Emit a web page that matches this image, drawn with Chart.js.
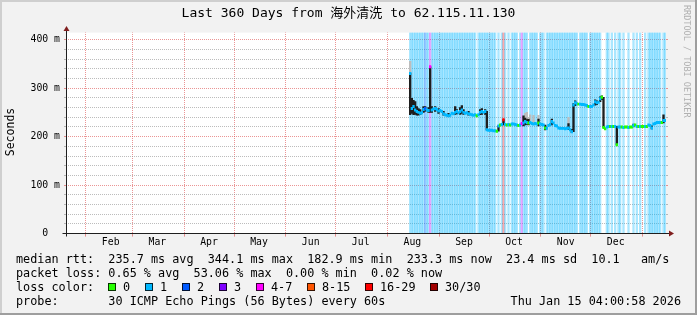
<!DOCTYPE html>
<html><head><meta charset="utf-8">
<script src="https://cdn.jsdelivr.net/npm/chart.js@4.4.1/dist/chart.umd.min.js"></script>
<style>html,body{margin:0;padding:0;background:#f2f2f2;overflow:hidden}canvas{display:block}</style>
</head><body>
<canvas id="c" width="697" height="315"></canvas>
<script>
// ---------- text ----------
const titleText = 'Last 360 Days from 海外清洗 to 62.115.11.130';
const yAxisTitle = 'Seconds';
const watermark = 'RRDTOOL / TOBI OETIKER';
const rttStats = ['235.7 ms avg', '344.1 ms max', '182.9 ms min', '233.3 ms now', '23.4 ms sd', '10.1   am/s'];
const lossStats = ['0.65 % avg', '53.06 % max', '0.00 % min', '0.02 % now'];
const probeText = '30 ICMP Echo Pings (56 Bytes) every 60s';
const stampText = 'Thu Jan 15 04:00:58 2026';

// ---------- axes ----------
const rangeStart = '2025-01-20T04:00:58Z';
const rangeDays = 360;
const monthNames = ['Feb','Mar','Apr','May','Jun','Jul','Aug','Sep','Oct','Nov','Dec','Jan'];
const monthStarts = ['2025-02-01','2025-03-01','2025-04-01','2025-05-01','2025-06-01','2025-07-01',
                     '2025-08-01','2025-09-01','2025-10-01','2025-11-01','2025-12-01','2026-01-01'];
const yMax = 414.5;
const yStep = 20;
const yMajorValues = [0, 100, 200, 300, 400];
const yTickLabels = ['0  ', '100 m', '200 m', '300 m', '400 m'];

// ---------- loss classes ----------
const lossLabels = ['0','1','2','3','4-7','8-15','16-29','30/30'];
const lossColors = ['#26ff00','#00b8ff','#0059ff','#7e00ff','#ff00ff','#ff5500','#ff0000','#a10000'];

// ---------- data (one value per day, day index counted from rangeStart) ----------
const firstDay = 206;
const median = [
  330,258,262,255,252,250,248,249,256,258,
  255,254,344,255,257,258,256,253,254,252,
  247,245,244,243,244,248,247,250,252,249,
  252,255,250,248,249,247,246,245,244,245,
  243,245,250,252,250,252,214,213,213,213,
  212,212,211,222,224,225,235,225,224,225,
  224,226,226,225,224,223,224,227,228,231,
  229,228,229,227,226,227,226,228,226,225,
  224,218,217,223,225,231,228,223,222,218,
  217,217,217,216,217,218,214,210,265,270,
  268,267,267,266,266,265,264,262,262,262,
  265,272,270,271,278,281,219,216,220,221,
  221,221,221,221,183,220,220,220,219,220,
  220,219,220,220,223,224,221,221,221,221,
  221,221,221,224,223,218,226,227,229,229,
  229,229,233,233
];
const loss = [
  1,1,1,1,1,1,1,1,1,2,
  1,1,4,1,1,1,1,1,1,1,
  1,1,1,1,1,1,1,1,1,1,
  1,1,1,1,1,1,1,1,1,1,
  0,1,1,1,1,1,1,1,1,1,
  1,1,0,1,0,1,6,1,0,1,
  0,1,1,1,1,0,1,4,1,1,
  1,0,1,1,1,1,1,0,1,1,
  1,0,1,1,1,1,1,1,1,1,
  1,1,1,1,1,1,1,1,1,1,
  1,0,1,1,1,1,1,0,1,1,
  1,1,1,1,1,0,0,0,1,1,
  0,1,0,1,0,1,1,0,1,0,
  0,1,0,0,1,0,1,0,1,0,
  0,1,0,1,1,1,1,1,1,1,
  1,0,1,1
];
// dark smoke (dense ping spread)
const smokeDays = [206,207,208,209,210,211,212,214,215,217,218,219,221,223,226,229,233,234,236,237,238,241,248,249,251,252,259,262,274,275,276,277,283,287,291,301,303,304,305,317,318,320,321,322,330,340,351,358];
const smokeLow  = [245,248,245,246,244,244,245,250,252,250,250,250,252,248,244,241,246,247,246,248,246,244,245,246,246,214,211,224,222,224,225,224,222,214,224,215,208,210,264,265,266,272,276,219,183,220,216,228];
const smokeHigh = [331,279,275,272,262,258,256,262,262,260,344,262,262,258,252,248,262,256,260,264,256,252,256,258,256,252,222,235,243,238,235,236,236,224,236,227,215,268,274,276,274,282,284,281,221,226,222,245];
// light smoke (sparse outliers)
const lightDays = [206,275,276,278,280,283,301];
const lightLow  = [331,238,235,232,229,236,227];
const lightHigh = [355,248,250,245,244,244,240];

// ---------- build datasets ----------
const DAY = 86400000;
const t0 = Date.parse(rangeStart);
const dayOffset = s => (Date.parse(s + 'T00:00:00Z') - t0) / DAY;
const markerHalf = 2.4;

const medData = [], medColors = [], bgData = [], bgColors = [];
median.forEach((m, k) => {
  const d = firstDay + k, c = loss[k];
  medData.push({x: d + 0.5, y: [m - markerHalf, m + markerHalf]});
  medColors.push(lossColors[c]);
  if (c > 0) { bgData.push({x: d + 0.5, y: [0, yMax]}); bgColors.push(lossColors[c] + '55'); }
});
const smokeData = smokeDays.map((d, k) => ({x: d + 0.5, y: [smokeLow[k], smokeHigh[k]]}));
const lightData = lightDays.map((d, k) => ({x: d + 0.5, y: [lightLow[k], lightHigh[k]]}));

const xTicks = [];
monthStarts.forEach((s, k) => {
  const o = dayOffset(s);
  if (o >= 0 && o <= rangeDays) xTicks.push({value: o, kind: 'grid', name: ''});
  const lo = o + 15;
  if (lo >= 0 && lo <= rangeDays) xTicks.push({value: lo, kind: 'label', name: monthNames[k]});
});
xTicks.sort((a, b) => a.value - b.value);

const GRID = 'rgba(143,143,143,0.6)';
const MGRID = 'rgba(222,79,79,0.6)';
const NONE = 'rgba(0,0,0,0)';
const MONO = '"DejaVu Sans Mono", "Noto Sans CJK SC", monospace';
const PLOT_TOP = 32.6;

const framePlugin = {
  id: 'frame',
  beforeDraw(chart) {
    const {ctx, width, height, chartArea: a} = chart;
    ctx.save();
    ctx.fillStyle = '#f2f2f2'; ctx.fillRect(0, 0, width, height);
    ctx.fillStyle = '#cfcfcf'; ctx.fillRect(0, 0, width, 2); ctx.fillRect(0, 0, 2, height);
    ctx.fillStyle = '#9e9e9e'; ctx.fillRect(0, height - 2, width, 2); ctx.fillRect(width - 2, 0, 2, height);
    ctx.fillStyle = '#ffffff'; ctx.fillRect(a.left, a.top, a.right - a.left, a.bottom - a.top);
    ctx.restore();
  },
  afterDraw(chart) {
    const {ctx, width, chartArea: a} = chart;
    ctx.save();
    const yb = Math.round(a.bottom - 0.5) + 0.5;
    const xl = Math.round(a.left - 0.5) + 0.5;
    ctx.strokeStyle = '#1f1f1f'; ctx.lineWidth = 1;
    ctx.beginPath(); ctx.moveTo(xl - 4, yb); ctx.lineTo(a.right + 4, yb); ctx.stroke();
    ctx.beginPath(); ctx.moveTo(xl, yb + 3); ctx.lineTo(xl, a.top - 2); ctx.stroke();
    ctx.fillStyle = '#801f1f';
    ctx.beginPath(); ctx.moveTo(a.right + 3, yb - 3); ctx.lineTo(a.right + 8, yb); ctx.lineTo(a.right + 3, yb + 3); ctx.closePath(); ctx.fill();
    ctx.beginPath(); ctx.moveTo(xl - 3, a.top - 1.5); ctx.lineTo(xl, a.top - 6.5); ctx.lineTo(xl + 3, a.top - 1.5); ctx.closePath(); ctx.fill();

    ctx.fillStyle = '#000';
    // title
    ctx.font = '13px ' + MONO; ctx.textAlign = 'center'; ctx.textBaseline = 'middle';
    ctx.fillText(titleText, width / 2, 14);
    // y axis title
    ctx.save(); ctx.translate(11, 132); ctx.rotate(-Math.PI / 2);
    ctx.font = '11.5px ' + MONO; ctx.fillText(yAxisTitle, 0, 0); ctx.restore();
    // watermark
    ctx.save(); ctx.translate(686, 5); ctx.rotate(Math.PI / 2);
    ctx.font = '8.5px ' + MONO; ctx.fillStyle = '#b0b0b0'; ctx.textAlign = 'left';
    ctx.fillText(watermark, 0, 0); ctx.restore();
    // legend
    ctx.font = '11.8px ' + MONO; ctx.textAlign = 'left'; ctx.textBaseline = 'middle';
    const L = 16, rows = [259.5, 273.5, 287.5, 301.5];
    ctx.fillText('median rtt:  ' + rttStats.join('  '), L, rows[0]);
    ctx.fillText('packet loss: ' + lossStats.join('  '), L, rows[1]);
    ctx.fillText('loss color:', L, rows[2]);
    let bx = L + ctx.measureText('loss color:  ').width;
    lossLabels.forEach((lab, k) => {
      const x0 = Math.round(bx);
      ctx.fillStyle = lossColors[k]; ctx.fillRect(x0, 283, 8, 8);
      ctx.strokeStyle = 'rgba(0,0,0,0.8)'; ctx.strokeRect(x0 + 0.5, 283.5, 7, 7);
      ctx.fillStyle = '#000';
      const lx = x0 + 15;
      ctx.fillText(lab, lx, rows[2]);
      bx = lx + ctx.measureText(lab).width + 14.6;
    });
    ctx.fillText('probe:       ' + probeText, L, rows[3]);
    ctx.textAlign = 'right';
    ctx.fillText(stampText, 681, rows[3]);
    ctx.restore();
  }
};

new Chart(document.getElementById('c'), {
  type: 'bar',
  data: { datasets: [
    {label: 'median rtt', data: medData, backgroundColor: medColors, order: 1},
    {label: 'smoke', data: smokeData, backgroundColor: '#1e1e1e', order: 2},
    {label: 'smoke light', data: lightData, backgroundColor: '#bdbdbd', order: 3},
    {label: 'loss background', data: bgData, backgroundColor: bgColors, order: 4}
  ]},
  options: {
    responsive: false, animation: false, devicePixelRatio: 1,
    layout: {padding: {left: 0, right: 0, top: PLOT_TOP, bottom: 0}},
    datasets: {bar: {grouped: false, barPercentage: 1, categoryPercentage: 1, borderWidth: 0, borderSkipped: false}},
    plugins: {legend: {display: false}, title: {display: false}, tooltip: {enabled: false}},
    scales: {
      x: {
        type: 'linear', min: 0, max: rangeDays, offset: false,
        afterBuildTicks: s => { s.ticks = xTicks.map(t => ({value: t.value, kind: t.kind, name: t.name})); },
        afterFit: s => { s.height = 81.4; },
        border: {display: false, dash: [1, 1], dashOffset: PLOT_TOP % 1},
        grid: {
          offset: false, drawTicks: true, tickLength: 3,
          color: c => (c.tick && c.tick.kind === 'grid') ? MGRID : NONE,
          tickColor: c => (c.tick && c.tick.kind === 'grid') ? MGRID : NONE
        },
        ticks: {
          autoSkip: false, maxRotation: 0, padding: 0, color: '#000',
          font: {family: MONO, size: 9.8},
          callback: (v, i, ticks) => ticks[i].name
        }
      },
      y: {
        min: 0, max: yMax,
        afterFit: s => { s.width = 66; },
        border: {display: false, dash: [1, 1]},
        grid: {
          drawTicks: true, tickLength: 2,
          color: c => (c.tick && c.tick.value % 100 === 0) ? MGRID : GRID,
          tickColor: c => (c.tick && c.tick.value % 100 === 0) ? MGRID : GRID
        },
        ticks: {
          stepSize: yStep, includeBounds: false, autoSkip: false, padding: 4, color: '#000',
          font: {family: MONO, size: 9.8},
          callback: v => { const k = yMajorValues.indexOf(v); return k >= 0 ? yTickLabels[k] : ''; }
        }
      },
      y2: {
        position: 'right', min: 0, max: yMax,
        afterFit: s => { s.width = 31; },
        border: {display: false},
        grid: {
          drawOnChartArea: false, drawTicks: true, tickLength: 2,
          color: c => (c.tick && c.tick.value % 100 === 0) ? MGRID : GRID,
          tickColor: c => (c.tick && c.tick.value % 100 === 0) ? MGRID : GRID
        },
        ticks: {stepSize: yStep, includeBounds: false, display: false}
      }
    }
  },
  plugins: [framePlugin]
});
</script>
</body></html>
